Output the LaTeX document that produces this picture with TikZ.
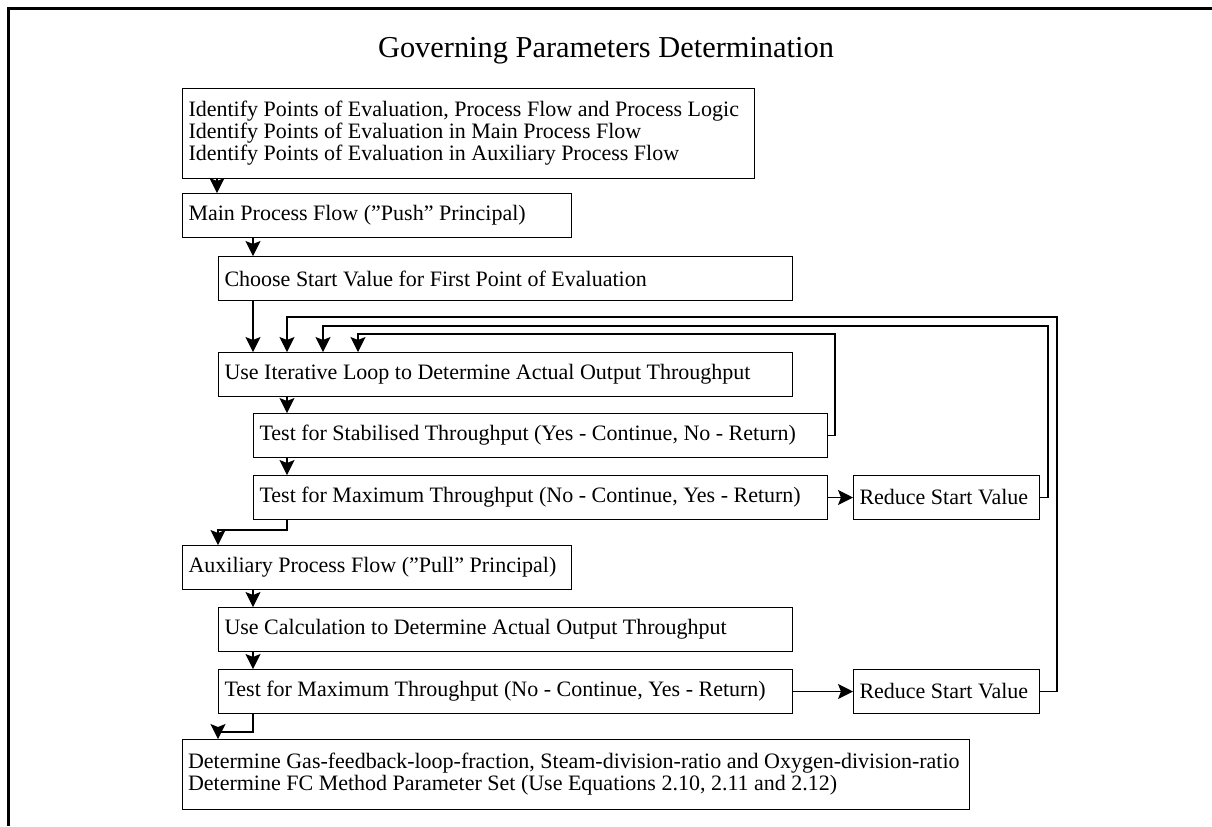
\documentclass[tikz,border=0pt]{standalone}
\usepackage{fontspec}
\setmainfont{Liberation Serif}
\usetikzlibrary{arrows.meta}

\begin{document}
\begin{tikzpicture}[
                    x = 0.5pt, y = -0.5pt, % one unit per pixel
                    > = {Stealth[length=7.5pt, width=7.5pt, inset=1.5pt]}, % arrow head style
                    line width = 0.6pt % line style
            ]

            \tikzstyle{block}=[
                draw = black,
                line width = 0.5pt,
                anchor = north west,
                align = flush left,
                inner xsep = 3pt,
                inner ysep = 0pt,
                minimum height = 22pt,
                font = \fontsize{11}{11}\selectfont
            ]

            \useasboundingbox (0,0) rectangle (1212,826);
            \draw[line width = 1.75pt] (1212,8.5) -- (8.5,8.5) -- (8.5,826);

            \node[font = \fontsize{15.2}{15}\selectfont] (title) at (606,51) {Governing Parameters Determination};

            \node[block, text width = 280pt, minimum height = 45pt] (ident) at (182,88)
                {Identify Points of Evaluation, Process Flow and Process Logic\\
                 Identify Points of Evaluation in Main Process Flow\\
                 Identify Points of Evaluation in Auxiliary Process Flow};
            \node[block, text width = 188.5pt] (mainflow) at (182,193) {Main Process Flow (”Push” Principal)};
            \node[block, text width = 281pt] (startval) at (218,256) {Choose Start Value for First Point of Evaluation};
            \node[block, text width = 281pt] (iterloop) at (218,352) {Use Iterative Loop to Determine Actual Output Throughput};
            \node[block, text width = 281pt] (stabtest) at (253,413) {Test for Stabilised Throughput (Yes - Continue, No - Return)};
            \node[block, text width = 281pt] (maxtest) at (253,475) {Test for Maximum Throughput (No - Continue, Yes - Return)};
            \node[block, text width = 87pt] (reduceA) at (853,475) {Reduce Start Value};
            \node[block, text width = 188.5pt] (auxflow) at (182,545) {Auxiliary Process Flow (”Pull” Principal)};
            \node[block, text width = 281pt] (calc) at (218,607) {Use Calculation to Determine Actual Output Throughput};
            \node[block, text width = 281pt] (maxtestB) at (218,669) {Test for Maximum Throughput (No - Continue, Yes - Return)};
            \node[block, text width = 87pt] (reduceB) at (853,669) {Reduce Start Value};
            \node[block, text width = 388pt, inner xsep = 2.75pt, minimum height = 35pt] (paramset) at (182,739)
                {Determine Gas-feedback-loop-fraction, Steam-division-ratio and Oxygen-division-ratio\\
                 Determine FC Method Parameter Set (Use Equations 2.10, 2.11 and 2.12)};

            % main path
            \draw[->] ([xshift=17.5pt]ident.south west) -- ([xshift=17.5pt]mainflow.north west);
            \draw[->] ([xshift=35.5pt]mainflow.south west) -- ([xshift=17.5pt]startval.north west);
            \draw[->] ([xshift=17.5pt]startval.south west) -- ([xshift=17.5pt]iterloop.north west);
            \draw[->] ([xshift=34.5pt]iterloop.south west) -- ([xshift=17pt]stabtest.north west);
            \draw[->] ([xshift=17pt]stabtest.south west) -- ([xshift=17pt]maxtest.north west);
            \draw[->] ([xshift=17pt]maxtest.south west) -- ++(0,10) -| ([xshift=18pt]auxflow.north west);
            \draw[->] ([xshift=35.5pt]auxflow.south west) -- ([xshift=17.5pt]calc.north west);
            \draw[->] ([xshift=17.5pt]calc.south west) -- ([xshift=17.5pt]maxtestB.north west);
            \draw[->] ([xshift=17.5pt]maxtestB.south west) -- ++(0,18) -| ([xshift=18pt]paramset.north west);
            \draw[->] (maxtest.east) -- (reduceA.west);
            \draw[->] (maxtestB.east) -- (reduceB.west);

            % return loops
            \draw[->] (stabtest.east) -| (835,334) -| ([xshift=70pt]iterloop.north west);
            \draw[->] (reduceA.east) -| (1048,326) -| ([xshift=52.5pt]iterloop.north west);
            \draw[->] (reduceB.east) -| (1057,317) -| ([xshift=34.5pt]iterloop.north west);
        \end{tikzpicture}
\end{document}
